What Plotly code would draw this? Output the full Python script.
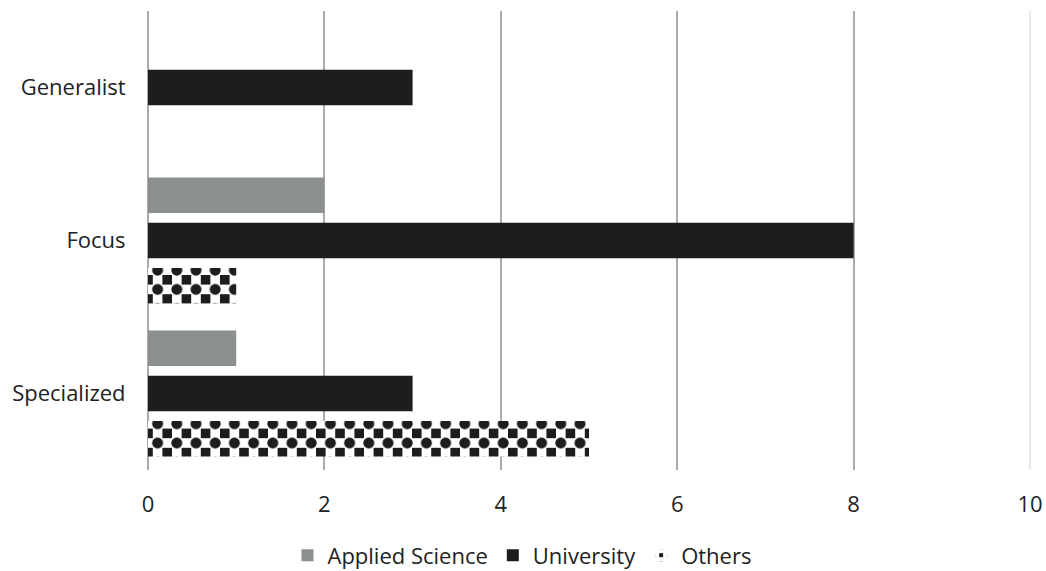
import plotly.graph_objects as go

categories = ["Generalist", "Focus", "Specialized"]
applied_science = [None, 2, 1]
university = [3, 8, 3]
others = [None, 1, 5]
x_ticks = [0, 2, 4, 6, 8, 10]

FONT = "Open Sans, Lato, sans-serif"
GRAY = "#8c8f8f"
BLACK = "#1e1d1c"
GRID = "#ababab"
CHECK = 19.2  # checker tile size in px

fig = go.Figure()

fig.add_trace(go.Bar(
    y=categories, x=applied_science, orientation="h",
    name="Applied Science", offsetgroup="a",
    marker=dict(color=GRAY, line=dict(width=0)),
))
fig.add_trace(go.Bar(
    y=categories, x=university, orientation="h",
    name="University", offsetgroup="b",
    marker=dict(color=BLACK, line=dict(width=0)),
))
# checkerboard: black corner squares with white crossing lines ...
fig.add_trace(go.Bar(
    y=categories, x=others, orientation="h",
    name="Others", offsetgroup="c",
    marker=dict(
        color=BLACK, line=dict(width=0),
        pattern=dict(shape="+", fgcolor="white", bgcolor=BLACK,
                     size=CHECK, solidity=0.75, fillmode="replace"),
    ),
))
# ... and black cells filled in at the line crossings
fig.add_trace(go.Bar(
    y=categories, x=others, orientation="h",
    name="Others", offsetgroup="c", showlegend=False, hoverinfo="skip",
    marker=dict(
        color=BLACK, line=dict(width=0),
        pattern=dict(shape=".", fgcolor=BLACK, bgcolor="rgba(0,0,0,0)",
                     size=CHECK, solidity=0.26, fillmode="replace"),
    ),
))

# light border line at the right end of the value axis
fig.add_shape(type="line", xref="paper", yref="paper",
              x0=1, x1=1, y0=0, y1=1,
              line=dict(color="#d2d2d2", width=1), layer="below")

fig.update_layout(
    width=1046, height=571,
    margin=dict(l=148, r=16, t=11, b=101, autoexpand=False),
    paper_bgcolor="white", plot_bgcolor="white",
    barmode="group", bargap=0.111, bargroupgap=0.216,
    font=dict(family=FONT, size=22, color="#222222"),
    showlegend=True,
    legend=dict(
        orientation="h", x=0.424, xanchor="center",
        y=-0.186, yanchor="middle",
        font=dict(family=FONT, size=22, color="#222222"),
        itemwidth=30, tracegroupgap=0,
    ),
    xaxis=dict(
        range=[0, 10], tickvals=x_ticks, showgrid=True, automargin=False,
        gridcolor=GRID, gridwidth=2,
        zeroline=True, zerolinecolor=GRID, zerolinewidth=2,
        showline=False, ticks="outside", ticklen=15,
        tickcolor="rgba(0,0,0,0)",
    ),
    yaxis=dict(
        categoryorder="array", categoryarray=categories, automargin=False,
        autorange="reversed", showgrid=False, zeroline=False,
        showline=False, ticks="outside", ticklen=17,
        tickcolor="rgba(0,0,0,0)",
    ),
)

fig.write_html("out.html")
